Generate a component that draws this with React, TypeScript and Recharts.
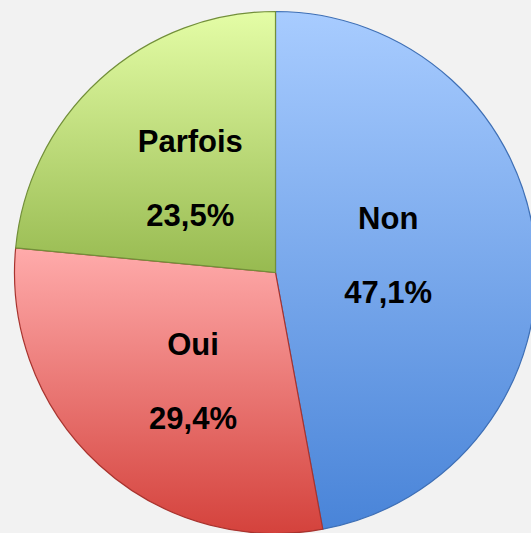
import React from "react";
import { PieChart, Pie, Cell } from "recharts";

const categories = ["Non", "Oui", "Parfois"];
const shares = [47.1, 29.4, 23.5];
const percentLabels = ["47,1%", "29,4%", "23,5%"];

const data = categories.map((name, i) => ({
  name,
  value: shares[i],
  label: percentLabels[i],
}));

// top / bottom colours of each slice's vertical gradient
const gradients = [
  { id: "gNon", top: "#a8ccff", bottom: "#4984d8", edge: "#3e6fb5" },
  { id: "gOui", top: "#ffabab", bottom: "#d4423c", edge: "#a8332e" },
  { id: "gParfois", top: "#e4fda6", bottom: "#97ba50", edge: "#728f3a" },
];

// label placement: share of the radius, and a small turn off the slice's mid angle
const labelPlace: Record<string, { r: number; turn: number }> = {
  Non: { r: 0.437, turn: 3.6 },
  Oui: { r: 0.525, turn: 5.5 },
  Parfois: { r: 0.485, turn: 0 },
};

const RADIAN = Math.PI / 180;

const renderLabel = (props: any) => {
  const { cx, cy, midAngle, outerRadius, payload } = props;
  const place = labelPlace[payload.name] ?? { r: 0.47, turn: 0 };
  const r = outerRadius * place.r;
  const a = (midAngle + place.turn) * RADIAN;
  const x = cx + r * Math.cos(-a);
  const y = cy + r * Math.sin(-a);
  const style = {
    fontFamily: "'Liberation Sans', Arial, sans-serif",
    fontWeight: 700,
    fontSize: 31,
    fill: "#000",
  };
  return (
    <g>
      <text x={x} y={y - 37} textAnchor="middle" dominantBaseline="central" {...style}>
        {payload.name}
      </text>
      <text x={x} y={y + 37} textAnchor="middle" dominantBaseline="central" {...style}>
        {payload.label}
      </text>
    </g>
  );
};

const App = () => {
  return (
    <div
      style={{
        position: "absolute",
        left: 0,
        top: 0,
        width: 531,
        height: 533,
        background: "#f2f2f2",
      }}
    >
      <PieChart
        width={531}
        height={533}
        margin={{ top: 0, right: 0, bottom: 0, left: 0 }}
      >
        <defs>
          {gradients.map((g) => (
            <linearGradient key={g.id} id={g.id} x1="0" y1="0" x2="0" y2="1">
              <stop offset="0%" stopColor={g.top} />
              <stop offset="100%" stopColor={g.bottom} />
            </linearGradient>
          ))}
        </defs>
        <Pie
          data={data}
          dataKey="value"
          nameKey="name"
          cx={275.5}
          cy={272.5}
          outerRadius={261}
          startAngle={90}
          endAngle={-270}
          label={renderLabel}
          labelLine={false}
          isAnimationActive={false}
        >
          {data.map((d, i) => (
            <Cell
              key={d.name}
              fill={`url(#${gradients[i].id})`}
              stroke={gradients[i].edge}
              strokeWidth={1.2}
            />
          ))}
        </Pie>
      </PieChart>
    </div>
  );
};

export default App;
